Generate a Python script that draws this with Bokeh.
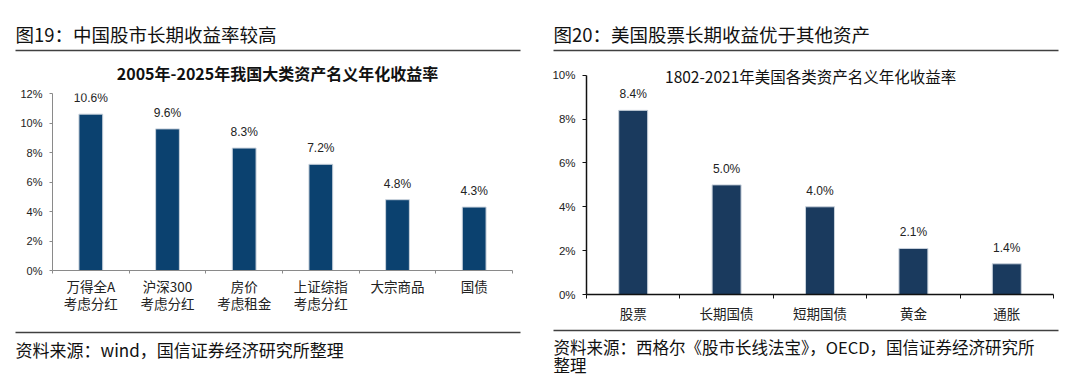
from bokeh.plotting import figure
from bokeh.models import ColumnDataSource, Range1d, FixedTicker, LabelSet
from bokeh.layouts import row, column
from bokeh.embed import file_html
from bokeh.resources import INLINE
from bokeh.core.properties import value

# ---------------- data ----------------
cn_header = "图19：中国股市长期收益率较高"
cn_title = "2005年-2025年我国大类资产名义年化收益率"
cn_categories = ["万得全A\n考虑分红", "沪深300\n考虑分红", "房价\n考虑租金",
                 "上证综指\n考虑分红", "大宗商品", "国债"]
cn_returns = [10.6, 9.6, 8.3, 7.2, 4.8, 4.3]
cn_yticks = [0, 2, 4, 6, 8, 10, 12]
cn_source = "资料来源：wind，国信证券经济研究所整理"

us_header = "图20：美国股票长期收益优于其他资产"
us_title = "1802-2021年美国各类资产名义年化收益率"
us_categories = ["股票", "长期国债", "短期国债", "黄金", "通胀"]
us_returns = [8.4, 5.0, 4.0, 2.1, 1.4]
us_yticks = [0, 2, 4, 6, 8, 10]
us_source = ["资料来源：西格尔《股市长线法宝》，OECD，国信证券经济研究所", "整理"]

CJK = "Noto Sans CJK SC"
LAT = "Liberation Sans"


def strip(width, height, texts, rules):
    """texts: (x, y, text, size, bold); rules: (x0, x1, y) in strip pixels, y downward."""
    p = figure(width=width, height=height, x_range=Range1d(0, width), y_range=Range1d(height, 0),
               x_axis_type=None, y_axis_type=None, toolbar_location=None,
               output_backend="svg", min_border=0)
    p.outline_line_color = None
    p.background_fill_color = "white"
    p.border_fill_color = "white"
    for x0, x1, y in rules:
        p.segment(x0=[x0], y0=[y], x1=[x1], y1=[y], line_color="#404040", line_width=1.6)
    for x, y, t, size, bold in texts:
        p.text(x=[x], y=[y], text=[t], text_font=value(CJK), text_font_size=size,
               text_font_style="bold" if bold else "normal",
               text_baseline="middle", text_align="center" if bold else "left",
               text_color="#111111")
    return p


def bar_chart(width, height, borders, cats, vals, yticks, ytop, bar_color, axis_color,
              axis_width, ylab_size, tick_len, line_height, standoff):
    n = len(cats)
    centers = [i + 0.5 for i in range(n)]
    src = ColumnDataSource(dict(x=centers, top=vals, label=[f"{v:.1f}%" for v in vals]))
    left, right, top, bottom = borders
    p = figure(width=width, height=height, x_range=Range1d(0, n), y_range=Range1d(0, ytop),
               toolbar_location=None, output_backend="svg",
               min_border_left=left, min_border_right=right,
               min_border_top=top, min_border_bottom=bottom)
    p.outline_line_color = None
    p.background_fill_color = "white"
    p.border_fill_color = "white"
    p.xgrid.visible = False
    p.ygrid.visible = False

    p.vbar(x="x", top="top", width=0.31, source=src, fill_color=bar_color,
           line_color="#c9d2dc", line_width=1)
    p.add_layout(LabelSet(x="x", y="top", text="label", source=src, y_offset=16,
                          text_align="center", text_baseline="middle",
                          text_font=value(LAT), text_font_size="12px",
                          text_color="#222222"))

    xa = p.xaxis[0]
    xa.ticker = FixedTicker(ticks=centers, minor_ticks=list(range(n + 1)))
    xa.major_label_overrides = {c: t for c, t in zip(centers, cats)}
    xa.major_tick_out = 0
    xa.major_tick_in = 0
    xa.minor_tick_out = tick_len
    xa.minor_tick_in = 0
    xa.minor_tick_line_color = axis_color
    xa.axis_line_color = axis_color
    xa.axis_line_width = axis_width
    xa.major_label_text_font = CJK
    xa.major_label_text_font_size = "13.5px"
    xa.major_label_text_line_height = line_height
    xa.major_label_text_color = "#222222"
    xa.major_label_standoff = standoff

    ya = p.yaxis[0]
    ya.ticker = FixedTicker(ticks=yticks)
    ya.bounds = (yticks[0], yticks[-1])
    ya.major_label_overrides = {t: f"{t}%" for t in yticks}
    ya.minor_tick_line_color = None
    ya.major_tick_out = tick_len
    ya.major_tick_in = 0
    ya.major_tick_line_color = axis_color
    ya.axis_line_color = axis_color
    ya.axis_line_width = axis_width
    ya.major_label_text_font = LAT
    ya.major_label_text_font_size = ylab_size
    ya.major_label_text_color = "#222222"
    ya.major_label_standoff = 7
    return p


# ---------- left panel (page x 0..540) ----------
lh = strip(540, 85, [(15, 33, cn_header, "18.5px", False),
                     (277, 72, cn_title, "16px", True)],
           [(15, 520, 50)])
# frame: x 52..512, y 93..270 -> chart strip spans page y 85..325
lc = bar_chart(540, 240, (52, 28, 8, 55), cn_categories, cn_returns, cn_yticks, 12,
               "#0b416f", "#8a8a8a", 1, "11px", 3, 0.85, 2)
lf = strip(540, 51, [(15, 24, cn_source, "17px", False)], [(15, 520, 7)])

# ---------- right panel (page x 540..1064) ----------
rh = strip(524, 58, [(13, 33, us_header, "18.5px", False)], [(13, 518, 50)])
# frame: x 586..1053, y 66..295 (10% at y 75) -> chart strip spans page y 58..325
rc = bar_chart(524, 267, (46, 11, 8, 30), us_categories, us_returns, us_yticks, 10.4,
               "#1a3a5e", "#111111", 1.5, "11.5px", 4, 1.2, 4)
rc.text(x=[len(us_categories) * 0.48], y=[us_yticks[-1] - 0.05], text=[us_title],
        text_font=value(CJK), text_font_size="15.5px", text_align="center",
        text_baseline="middle", text_color="#111111")
rf = strip(524, 51, [(13, 21, us_source[0], "16.5px", False),
                     (13, 39, us_source[1], "16.5px", False)], [(13, 518, 5)])

layout = row(column(column(lh), column(lc), column(lf)),
             column(column(rh), column(rc), column(rf)))

open("out.html", "w").write(file_html(layout, INLINE))
